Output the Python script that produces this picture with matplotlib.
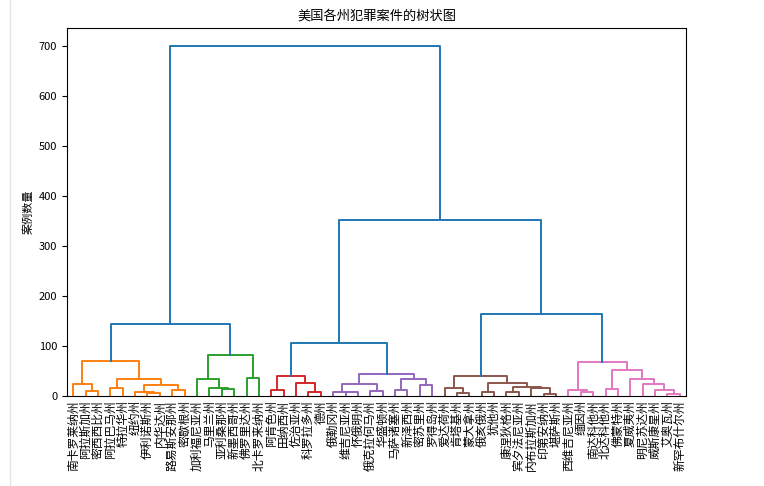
import matplotlib
matplotlib.use("Agg")
import matplotlib.pyplot as plt

plt.rcParams['font.family'] = ['Noto Sans CJK SC', 'DejaVu Sans']
plt.rcParams['axes.unicode_minus'] = False

labels = ['南卡罗莱纳州', '阿拉斯加州', '密西西比州', '阿拉巴马州', '特拉华州', '纽约州',
          '伊利诺斯州', '内华达州', '路易斯安那州', '密歇根州', '加利福尼亚州', '马里兰州',
          '亚利桑那州', '新墨西哥州', '佛罗里达州', '北卡罗来纳州', '阿肯色州', '田纳西州',
          '佐治亚州', '科罗拉多州', '德州', '俄勒冈州', '维吉尼亚州', '怀俄明州',
          '俄克拉何马州', '华盛顿州', '马萨诸塞州', '新泽西州', '密苏里州', '罗得岛州',
          '爱达荷州', '肯塔基州', '蒙大拿州', '俄亥俄州', '犹他州', '康涅狄格州',
          '宾夕法尼亚州', '内布拉斯加州', '印第安纳州', '堪萨斯州', '西维吉尼亚州', '缅因州',
          '南达科他州', '北达科他州', '佛蒙特州', '夏威夷州', '明尼苏达州', '威斯康星州',
          '艾奥瓦州', '新罕布什尔州']

# merges: (left id, right id); ids < 50 are leaves, id 50+k is merge k
merge_left = [1, 0, 3, 6, 5, 8, 54, 52, 51,
              12, 11, 10, 14, 61, 58,
              16, 19, 18, 65,
              22, 21, 24, 70, 26, 28, 73, 72, 68,
              31, 30, 33, 35, 38, 37, 81, 80, 79,
              41, 40, 43, 48, 47, 46, 45, 89, 88, 86, 77, 64]
merge_right = [2, 50, 4, 7, 53, 9, 55, 56, 57,
               13, 59, 60, 15, 62, 63,
               17, 20, 66, 67,
               23, 69, 25, 71, 27, 29, 74, 75, 76,
               32, 78, 34, 36, 39, 82, 83, 84, 85,
               42, 87, 44, 49, 90, 91, 92, 93, 94, 95, 96, 97]
merge_height = [10, 23, 16.5, 5, 8, 12, 22.5, 34, 70,
                14.5, 16.5, 33, 36, 81.5, 143,
                12.5, 7, 26.5, 40,
                7, 8.5, 10.5, 23, 12, 21, 34, 43, 106,
                6.5, 16, 7, 7, 4.5, 16, 18, 26.5, 40,
                8.5, 12.5, 14.5, 3.5, 12.5, 24.5, 34.5, 52, 68, 163, 352, 700]

color_threshold = 100
palette = ['C1', 'C2', 'C3', 'C4', 'C5', 'C6', 'C7', 'C8', 'C9']
above_color = 'C0'

n = len(labels)
xpos = {i: 5 + 10 * i for i in range(n)}
ypos = {i: 0.0 for i in range(n)}
for k, (a, b, h) in enumerate(zip(merge_left, merge_right, merge_height)):
    xpos[n + k] = (xpos[a] + xpos[b]) / 2
    ypos[n + k] = h

# assign colors: subtrees whose top is below threshold get a cluster color
link_color = {}
counter = [0]

def color_sub(node, col):
    if node < n:
        return
    link_color[node] = col
    k = node - n
    color_sub(merge_left[k], col)
    color_sub(merge_right[k], col)

def assign(node):
    if node < n:
        return
    k = node - n
    if merge_height[k] <= color_threshold:
        col = palette[counter[0] % len(palette)]
        counter[0] += 1
        color_sub(node, col)
    else:
        link_color[node] = above_color
        assign(merge_left[k])
        assign(merge_right[k])

assign(n + len(merge_height) - 1)

fig = plt.figure(figsize=(7.64, 4.86), dpi=100)
ax = fig.add_axes([67 / 764, 1 - 396 / 486, (686 - 67) / 764, (396 - 28) / 486])

for k, (a, b, h) in enumerate(zip(merge_left, merge_right, merge_height)):
    node = n + k
    ax.plot([xpos[a], xpos[a], xpos[b], xpos[b]],
            [ypos[a], h, h, ypos[b]],
            color=link_color[node], linewidth=1.4)

ax.set_xlim(0, 10 * n)
ax.set_ylim(0, max(merge_height) * 1.05)
ax.set_xticks([xpos[i] for i in range(n)])
ax.set_xticklabels(labels, rotation=90, fontsize=8.5)
ax.set_yticks(range(0, 800, 100))
ax.tick_params(axis='y', labelsize=8)
ax.tick_params(axis='x', length=0, pad=3)
ax.set_ylabel('案例数量', fontsize=8)
ax.set_title('美国各州犯罪案件的树状图', fontsize=9.5)

fig.lines.append(plt.Line2D([10 / 764, 10 / 764], [0, 1], transform=fig.transFigure,
                            color='#e6e6e6', linewidth=1))

fig.savefig('out.png', dpi=100)
